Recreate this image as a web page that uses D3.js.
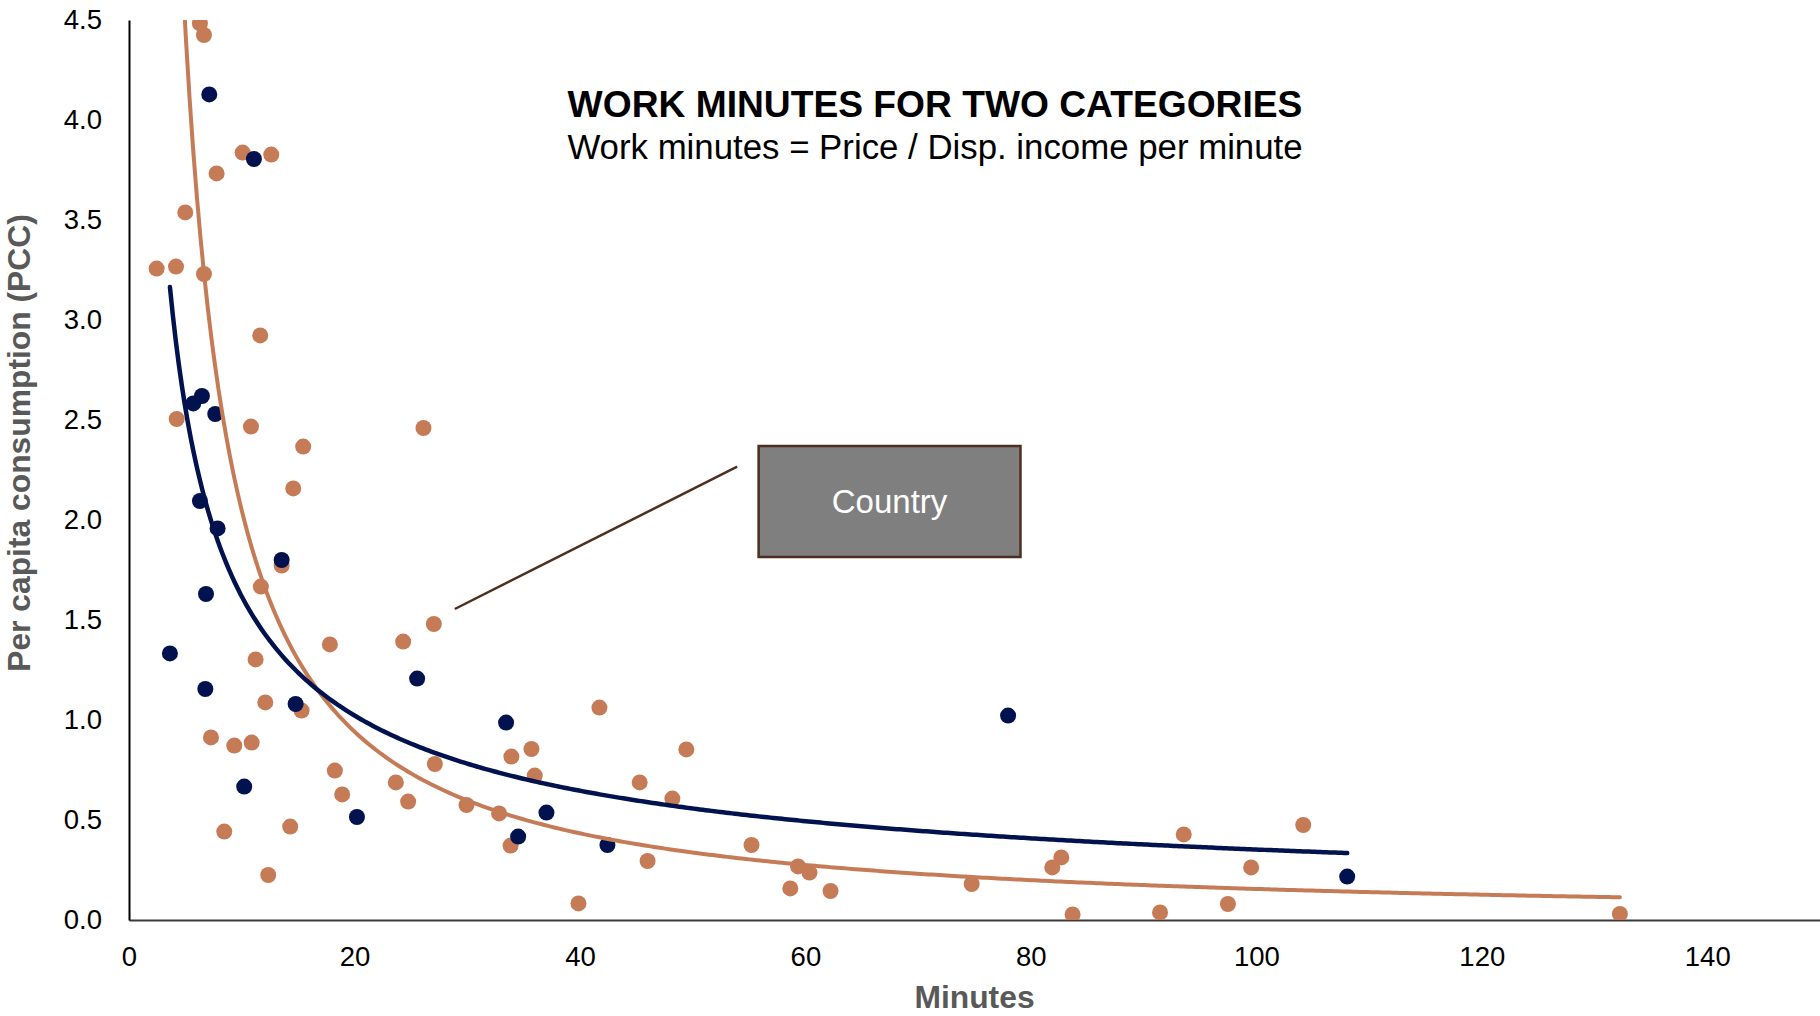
<!DOCTYPE html>
<html>
<head>
<meta charset="utf-8">
<script src="https://cdn.jsdelivr.net/npm/d3@7"></script>
<style>
  body { margin: 0; background: #fff; }
  svg { font-family: "Liberation Sans", Arial, sans-serif; }
  .axis text { fill: #000; font-size: 27.5px; }
  .axis-title { fill: #595959; font-size: 31.8px; font-weight: bold; }
</style>
</head>
<body>
<svg id="chart" width="1820" height="1016"></svg>
<script>
// navy series (minutes, PCC)
const navyX = [3.63, 5.70, 6.29, 6.47, 6.77, 6.83, 7.12, 7.65, 7.86, 10.22, 11.08,
  13.54, 14.78, 20.22, 25.56, 33.45, 34.52, 37.03, 42.44, 77.98, 108.06];
const navyY = [1.333, 2.583, 2.095, 2.62, 1.155, 1.63, 4.128, 2.53, 1.958, 0.667, 3.805,
  1.80, 1.08, 0.515, 1.207, 0.987, 0.417, 0.537, 0.375, 1.022, 0.217];

// orange series (minutes, PCC)
const orangeX = [2.45, 4.17, 4.23, 4.99, 6.29, 6.65, 6.65, 7.27, 7.77, 8.45, 9.34, 10.08,
  10.82, 10.88, 11.23, 11.64, 11.70, 12.09, 12.35, 12.62, 13.54, 14.30, 14.57, 15.31,
  15.45, 17.82, 18.26, 18.91, 23.67, 24.32, 24.76, 26.12, 27.04, 27.13, 29.94, 32.83,
  33.85, 33.92, 35.70, 35.99, 39.87, 41.73, 45.30, 46.0, 48.2, 49.44, 55.22, 58.66,
  59.35, 60.36, 62.23, 74.75, 81.9, 82.7, 83.7, 91.46, 93.56, 97.48, 99.54, 104.16, 132.25];
const orangeY = [3.257, 3.267, 2.505, 3.538, 4.483, 4.425, 3.23, 0.913, 3.733, 0.442, 0.872, 3.837,
  2.467, 0.887, 1.303, 2.923, 1.667, 1.088, 0.225, 3.827, 1.772, 0.467, 2.158, 1.047,
  2.367, 1.378, 0.747, 0.628, 0.688, 1.392, 0.592, 2.46, 1.48, 0.78, 0.575, 0.533,
  0.372, 0.817, 0.855, 0.722, 0.083, 1.062, 0.688, 0.295, 0.607, 0.853, 0.375, 0.158,
  0.268, 0.237, 0.145, 0.18, 0.263, 0.313, 0.028, 0.038, 0.428, 0.08, 0.263, 0.475, 0.03];

// power trendlines y = a * x^b  [navy, orange]
const trendA = [7.43, 27.03];
const trendB = [-0.662, -1.1205];

const xTicks = [0, 20, 40, 60, 80, 100, 120, 140];
const yTicks = [0, 0.5, 1, 1.5, 2, 2.5, 3, 3.5, 4, 4.5];

const navyColor = "#02124f";
const orangeColor = "#c67b57";

translate = function(a, b) {
  return "translate(" + a + ", " + b + ")";
}

const svg = d3.select("#chart");
const plotLeft = 129, plotRight = 1820, plotTop = 20, plotBottom = 920;

let x = d3.scaleLinear().domain([0, 150]).range([plotLeft, plotRight]);
let y = d3.scaleLinear().domain([0, 4.5]).range([plotBottom, plotTop]);

svg.append("defs").append("clipPath").attr("id", "plotClip")
  .append("rect")
  .attr("x", plotLeft).attr("y", plotTop)
  .attr("width", plotRight - plotLeft).attr("height", plotBottom - plotTop);

// axes
let xAxis = d3.axisBottom(x).tickValues(xTicks).tickSize(0).tickPadding(26)
  .tickFormat(d3.format("d"));
let yAxis = d3.axisLeft(y).tickValues(yTicks).tickSize(0).tickPadding(27)
  .tickFormat(d3.format(".1f"));

let xGroup = svg.append("g").attr("class", "axis")
  .attr("transform", translate(0, plotBottom)).call(xAxis);
xGroup.select(".domain").attr("stroke", "#3a3a3a").attr("stroke-width", 2);
xGroup.selectAll("text").attr("font-family", "Liberation Sans, Arial, sans-serif");

let yGroup = svg.append("g").attr("class", "axis")
  .attr("transform", translate(plotLeft, 0)).call(yAxis);
yGroup.select(".domain").attr("stroke", "#000").attr("stroke-width", 2);
yGroup.selectAll("text").attr("font-family", "Liberation Sans, Arial, sans-serif");

// axis titles
svg.append("text")
  .attr("class", "axis-title")
  .attr("text-anchor", "middle")
  .attr("transform", translate(30, 443) + " rotate(-90)")
  .text("Per capita consumption (PCC)");

svg.append("text")
  .attr("class", "axis-title")
  .attr("text-anchor", "middle")
  .attr("x", (plotLeft + plotRight) / 2)
  .attr("y", 1008)
  .text("Minutes");

// points
let orangePts = orangeX.map((d, i) => ({x: d, y: orangeY[i]}));
let navyPts = navyX.map((d, i) => ({x: d, y: navyY[i]}));

let plot = svg.append("g").attr("clip-path", "url(#plotClip)");

plot.append("g").selectAll("circle")
  .data(orangePts)
  .enter()
  .append("circle")
  .attr("cx", d => x(d.x))
  .attr("cy", d => y(d.y))
  .attr("r", 8)
  .attr("fill", orangeColor);

plot.append("g").selectAll("circle")
  .data(navyPts)
  .enter()
  .append("circle")
  .attr("cx", d => x(d.x))
  .attr("cy", d => y(d.y))
  .attr("r", 8)
  .attr("fill", navyColor);

// trendlines, over the min..max range of each series
let line = d3.line().x(d => x(d[0])).y(d => y(d[1]));
let trendSeries = [
  {xs: orangeX, a: trendA[1], b: trendB[1], color: orangeColor, width: 4},
  {xs: navyX, a: trendA[0], b: trendB[0], color: navyColor, width: 4.5}
];
trendSeries.forEach(function(s) {
  let lo = d3.min(s.xs), hi = d3.max(s.xs);
  let pts = [];
  for (let i = 0; i <= 400; i++) {
    let xv = lo + (hi - lo) * i / 400;
    pts.push([xv, s.a * Math.pow(xv, s.b)]);
  }
  plot.append("path")
    .attr("d", line(pts))
    .attr("fill", "none")
    .attr("stroke", s.color)
    .attr("stroke-width", s.width)
    .attr("stroke-linecap", "round");
});

// annotation
const noteLine = [[28.9, 1.555], [53.95, 2.2665]];
const noteBox = {x0: 55.85, x1: 79.08, y0: 1.815, y1: 2.37};

svg.append("line")
  .attr("x1", x(noteLine[0][0])).attr("y1", y(noteLine[0][1]))
  .attr("x2", x(noteLine[1][0])).attr("y2", y(noteLine[1][1]))
  .attr("stroke", "#4e2f1f")
  .attr("stroke-width", 2.5);

svg.append("rect")
  .attr("x", x(noteBox.x0)).attr("y", y(noteBox.y1))
  .attr("width", x(noteBox.x1) - x(noteBox.x0))
  .attr("height", y(noteBox.y0) - y(noteBox.y1))
  .attr("fill", "#7f7f7f")
  .attr("stroke", "#4e2f1f")
  .attr("stroke-width", 2.5);

svg.append("text")
  .attr("x", x((noteBox.x0 + noteBox.x1) / 2))
  .attr("y", y((noteBox.y0 + noteBox.y1) / 2))
  .attr("dy", "0.36em")
  .attr("text-anchor", "middle")
  .attr("fill", "#fff")
  .style("font-size", "33px")
  .text("Country");

// titles
svg.append("text")
  .attr("x", 935).attr("y", 117)
  .attr("text-anchor", "middle")
  .style("font-size", "37.2px")
  .style("font-weight", "bold")
  .text("WORK MINUTES FOR TWO CATEGORIES");

svg.append("text")
  .attr("x", 935).attr("y", 159)
  .attr("text-anchor", "middle")
  .style("font-size", "34.8px")
  .text("Work minutes = Price / Disp. income per minute");
</script>
</body>
</html>
